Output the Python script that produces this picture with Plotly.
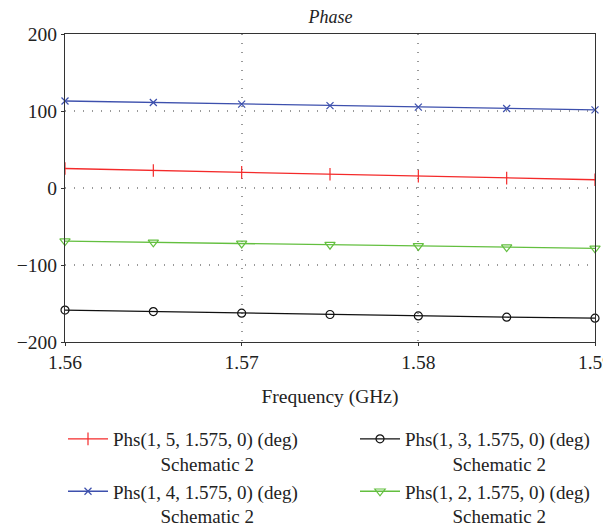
import plotly.graph_objects as go

freq = [1.56, 1.565, 1.57, 1.575, 1.58, 1.585, 1.59]
phs15 = [25.3, 22.8, 20.3, 17.8, 15.3, 12.8, 10.7]
phs13 = [-158.5, -160.5, -162.5, -164.3, -166.2, -167.8, -169.0]
phs14 = [113.0, 111.0, 109.0, 107.0, 105.0, 103.2, 101.5]
phs12 = [-69.0, -70.5, -72.0, -73.6, -75.2, -76.8, -78.4]

names = [
    "Phs(1, 5, 1.575, 0) (deg)",
    "Phs(1, 3, 1.575, 0) (deg)",
    "Phs(1, 4, 1.575, 0) (deg)",
    "Phs(1, 2, 1.575, 0) (deg)",
]
sub = "Schematic 2"

series = [
    (phs15, names[0], "#f42a2a", "line-ns-open", 9, "legend"),
    (phs13, names[1], "#111111", "circle-open", 8, "legend2"),
    (phs14, names[2], "#3d50ad", "x-thin-open", 7, "legend"),
    (phs12, names[3], "#63bf3f", "triangle-down-open", 9, "legend2"),
]

fig = go.Figure()
for ys, nm, col, sym, sz, lg in series:
    fig.add_trace(go.Scatter(
        x=freq, y=ys, mode="lines+markers",
        name=nm + "<br>" + "\u00a0" * 10 + sub,
        legend=lg,
        line=dict(color=col, width=1.3),
        marker=dict(symbol=sym, size=sz, color=col, line=dict(color=col, width=1.2)),
        cliponaxis=False,
    ))

font = "Liberation Serif, DejaVu Serif, serif"
OFF = 8  # page body margin
W, H = 611 - OFF, 528 - OFF
# plot-area edges in screenshot pixels
X0, X1, Y0, Y1 = 65, 595, 34, 342
L, R, T, B = X0 - OFF, W - (X1 - OFF), Y0 - OFF, H - (Y1 - OFF)
pw, ph = W - L - R, H - T - B


def px_x(p):
    return (p - OFF - L) / pw


def px_y(p):
    return (H - B - (p - OFF)) / ph


leg_common = dict(orientation="v", xanchor="left", yanchor="top",
                  tracegroupgap=0, itemwidth=40, valign="top",
                  bgcolor="rgba(0,0,0,0)",
                  font=dict(family=font, size=19, color="#222"))

fig.update_layout(
    width=W, height=H,
    margin=dict(l=L, r=R, t=T, b=B, autoexpand=False),
    paper_bgcolor="white", plot_bgcolor="white",
    font=dict(family=font, size=19.5, color="#222"),
    title=dict(text="<i>Phase</i>", x=0.535, xanchor="center", y=1 - (17 - OFF) / H,
               yanchor="middle", font=dict(family=font, size=18, color="#222")),
    showlegend=True,
    legend=dict(x=px_x(63), y=px_y(420), **leg_common),
    legend2=dict(x=px_x(355), y=px_y(420), **leg_common),
)
fig.update_xaxes(
    range=[1.56, 1.59], tickvals=[1.56, 1.57, 1.58, 1.59],
    ticktext=["1.56", "1.57", "1.58", "1.59"],
    ticklabeloverflow="allow",
    showgrid=True, gridcolor="#999", griddash="1px,8px", gridwidth=1.5,
    showline=True, linecolor="#333", linewidth=1, mirror=True,
    ticks="outside", ticklen=3, tickcolor="#333",
    zeroline=False,
    title=dict(text="Frequency (GHz)", font=dict(family=font, size=19.5), standoff=16),
)
fig.update_yaxes(
    range=[-200, 200], tickvals=[-200, -100, 0, 100, 200],
    ticktext=["\u2212200", "\u2212100", "0", "100", "200"],
    showgrid=True, gridcolor="#999", griddash="1px,8px", gridwidth=1.5,
    showline=True, linecolor="#333", linewidth=1, mirror=True,
    ticks="outside", ticklen=3, tickcolor="#333",
    zeroline=False,
)
fig.write_html("out.html")
